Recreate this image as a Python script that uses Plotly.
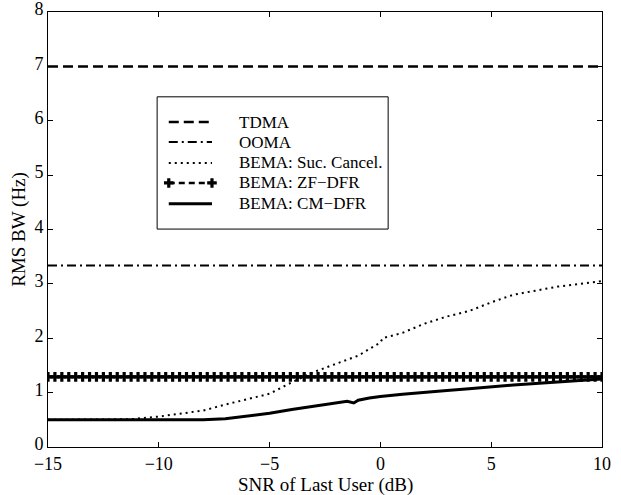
import numpy as np
import plotly.graph_objects as go

# ---- data ----
snr_ends = [-15, 10]
tdma = [7.0, 7.0]
ooma = [3.34, 3.34]

snr_zf = list(np.arange(-15, 10.0001, 0.3125))
zf_dfr = [1.29] * len(snr_zf)

snr_suc = [-15, -12, -11.3, -10, -9, -8, -7, -6, -5, -4, -3, -2, -1, -0.3, 0, 0.1,
           1, 2, 3, 4, 5, 6, 7, 8, 9, 10]
suc_cancel = [0.5, 0.5, 0.51, 0.56, 0.61, 0.67, 0.78, 0.88, 0.98, 1.19, 1.38, 1.53,
              1.68, 1.85, 1.92, 2.0, 2.1, 2.27, 2.4, 2.5, 2.66, 2.8, 2.88, 2.95, 3.0, 3.05]

snr_cm = [-15, -8, -7, -6, -5, -4, -3, -2, -1.5, -1.2, -1, -0.5, 0, 1, 2, 3, 4, 5,
          6, 7, 8, 9, 10]
cm_dfr = [0.5, 0.5, 0.52, 0.57, 0.62, 0.69, 0.75, 0.82, 0.84, 0.81, 0.86, 0.9, 0.93,
          0.97, 1.01, 1.04, 1.07, 1.11, 1.14, 1.17, 1.2, 1.23, 1.25]

names = ["TDMA", "OOMA", "BEMA: Suc. Cancel.", "BEMA: ZF\u2212DFR", "BEMA: CM\u2212DFR"]
x_ticks = [-15, -10, -5, 0, 5, 10]
x_ticktext = ["\u221215", "\u221210", "\u22125", "0", "5", "10"]
y_ticks = [0, 1, 2, 3, 4, 5, 6, 7, 8]
x_title = "SNR of Last User (dB)"
y_title = "RMS BW (Hz)"

FONT = "Liberation Serif"
FS_TICK = 18
FS_TITLE = 19
FS_LEG = 17

styles = [
    dict(line=dict(color="black", width=2.5, dash="10px,5px"), mode="lines"),
    dict(line=dict(color="black", width=2, dash="9px,4px,2px,4px"), mode="lines"),
    dict(line=dict(color="black", width=2, dash="2px,4px"), mode="lines"),
    dict(line=dict(color="black", width=2.5, dash="6px,4px"), mode="lines+markers",
         marker=dict(symbol="cross", size=8, color="black")),
    dict(line=dict(color="black", width=3), mode="lines"),
]
series = [(snr_ends, tdma), (snr_ends, ooma), (snr_suc, suc_cancel),
          (snr_zf, zf_dfr), (snr_cm, cm_dfr)]

fig = go.Figure()
for (xs, ys), st, nm in zip(series, styles, names):
    fig.add_trace(go.Scatter(x=xs, y=ys, name=nm, showlegend=False, **st))

# ---- legend drawn in plot-fraction coordinates on an overlay axis ----
leg_left, leg_right, leg_top, leg_bottom = 0.197, 0.614, 0.805, 0.501
row_y = [0.747, 0.701, 0.653, 0.607, 0.559]
sym_x0, sym_x1, text_x = 0.218, 0.296, 0.342

fig.add_shape(type="rect", xref="paper", yref="paper", x0=leg_left, x1=leg_right,
              y0=leg_bottom, y1=leg_top, line=dict(color="black", width=1),
              fillcolor="white", layer="below")
for i, (st, nm) in enumerate(zip(styles, names)):
    fig.add_trace(go.Scatter(x=[sym_x0, sym_x1], y=[row_y[i], row_y[i]], xaxis="x2", yaxis="y2",
                             showlegend=False, hoverinfo="skip", **st))
    fig.add_annotation(x=text_x, y=row_y[i], xref="paper", yref="paper", text=nm,
                       showarrow=False, xanchor="left", yanchor="middle",
                       font=dict(family=FONT, size=FS_LEG, color="black"))

# x-axis title placed just under the tick labels
fig.add_annotation(x=0.5, y=-0.087, xref="paper", yref="paper", text=x_title,
                   showarrow=False, xanchor="center", yanchor="middle",
                   font=dict(family=FONT, size=FS_TITLE, color="black"))

axis_common = dict(showgrid=False, zeroline=False, showline=True, linecolor="black",
                   linewidth=1, mirror="ticks", ticks="inside", ticklen=5,
                   tickcolor="black", automargin=False, ticklabeloverflow="allow",
                   tickfont=dict(family=FONT, size=FS_TICK, color="black"))

fig.update_xaxes(range=[-15, 10], tickvals=x_ticks, ticktext=x_ticktext,
                 ticklabelstandoff=0, **axis_common)
fig.update_yaxes(range=[0, 8], tickvals=y_ticks, ticklabelshift=-3,
                 title=dict(text=y_title, font=dict(family=FONT, size=FS_TITLE, color="black"),
                            standoff=3),
                 **axis_common)

fig.update_layout(
    width=621, height=495,
    margin=dict(l=48, r=19, t=12, b=48),
    plot_bgcolor="white", paper_bgcolor="white",
    font=dict(family=FONT, color="black"),
    showlegend=False,
    xaxis2=dict(overlaying="x", range=[0, 1], visible=False, fixedrange=True),
    yaxis2=dict(overlaying="y", range=[0, 1], visible=False, fixedrange=True),
)

fig.write_html("out.html", config={"displayModeBar": False},
               post_script="document.body.style.margin='0';document.body.style.overflow='hidden';")
